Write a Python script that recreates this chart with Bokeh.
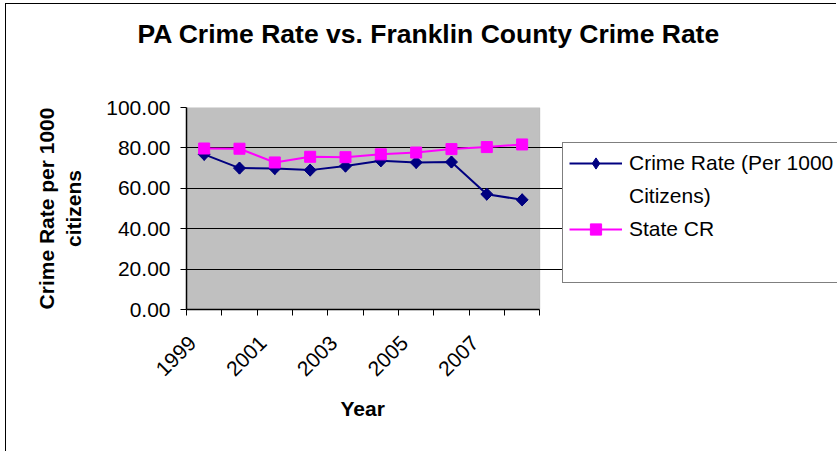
import math

from bokeh.embed import file_html
from bokeh.models import (BoxAnnotation, FixedTicker, Legend, LegendItem,
                          NumeralTickFormatter, Range1d, Title)
from bokeh.plotting import figure
from bokeh.resources import INLINE

# Crime rate per 1000 citizens, Franklin County vs. the state of Pennsylvania
years = [1999, 2000, 2001, 2002, 2003, 2004, 2005, 2006, 2007, 2008]
county_rate = [76.8, 70.0, 69.8, 69.0, 71.0, 73.6, 72.8, 73.0, 57.1, 54.3]
state_rate = [79.7, 79.6, 72.8, 75.6, 75.4, 76.8, 77.7, 79.4, 80.4, 81.7]
labeled_years = years[::2]
y_ticks = [0, 20, 40, 60, 80, 100]

FONT = "Liberation Sans"

# page layout (pixels): the frame runs to the right edge so the legend box
# can sit beside the grey plot area; the plot area itself is PLOT_W wide
CANVAS_W, CANVAS_H = 831, 448
LEFT, TOP, BOTTOM = 180, 103, 143
PLOT_W = 353.3
FRAME_W = CANVAS_W - LEFT
n = len(years)

# categories sit in the middle of their slots on a 0..n axis
xs = [i + 0.5 for i in range(n)]
label_shift = -0.33
label_pos = [years.index(y) + 0.5 + label_shift for y in labeled_years]

p = figure(
    width=CANVAS_W, height=CANVAS_H, title=None,
    output_backend="svg", toolbar_location=None,
    x_range=Range1d(0, n * FRAME_W / PLOT_W), y_range=Range1d(0, 100),
    min_border_left=LEFT, min_border_right=0,
    min_border_top=TOP, min_border_bottom=BOTTOM,
    background_fill_color="white", border_fill_color="white",
    outline_line_color=None,
)
p.styles = {
    "margin-left": "5px", "margin-top": "3px",
    "border-left": "1px solid #000000", "border-top": "1px solid #000000",
}

# grey plot area behind the grid
p.add_layout(BoxAnnotation(left=0, right=n, bottom=0, top=100, level="image",
                           fill_color="#C0C0C0", fill_alpha=1,
                           line_color="#808080", line_width=1))

# titles: a blank spacer next to the frame, the chart title above it
p.add_layout(Title(text=" ", text_font=FONT, text_font_size="26px", standoff=11), "above")
p.add_layout(Title(text="PA Crime Rate vs. Franklin County Crime Rate",
                   text_font=FONT, text_font_size="26.5px", text_font_style="bold",
                   text_color="black", align="left", offset=-49,
                   vertical_align="top", standoff=28), "above")

# x axis: tick marks on slot boundaries, labels on every other year
xa = p.xaxis[0]
xa.bounds = (0, n)
xa.ticker = FixedTicker(ticks=label_pos, minor_ticks=list(range(n + 1)))
xa.major_label_overrides = {pos: str(y) for pos, y in zip(label_pos, labeled_years)}
xa.major_tick_out = 0
xa.major_tick_in = 0
xa.minor_tick_out = 6
xa.minor_tick_in = 0
xa.minor_tick_line_color = "black"
xa.axis_line_color = "black"
xa.axis_line_width = 1.5
xa.major_label_orientation = math.pi / 4
xa.major_label_text_font = FONT
xa.major_label_text_font_size = "21px"
xa.major_label_text_color = "black"
xa.major_label_standoff = 24

p.add_layout(Title(text="Year", text_font=FONT, text_font_size="21px",
                   text_font_style="bold", text_color="black",
                   align="left", offset=154, vertical_align="top", standoff=22), "below")

ya = p.yaxis[0]
ya.bounds = (0, 100)
ya.ticker = FixedTicker(ticks=y_ticks)
ya.formatter = NumeralTickFormatter(format="0.00")
ya.major_tick_out = 6
ya.major_tick_in = 0
ya.minor_tick_line_color = None
ya.axis_line_color = "black"
ya.axis_line_width = 1.5
ya.major_label_text_font = FONT
ya.major_label_text_font_size = "21px"
ya.major_label_text_color = "black"
ya.major_label_standoff = 10
ya.axis_label = "Crime Rate per 1000\ncitizens"
ya.axis_label_text_font = FONT
ya.axis_label_text_font_size = "21px"
ya.axis_label_text_font_style = "bold"
ya.axis_label_text_color = "black"
ya.axis_label_standoff = 18

p.xgrid.grid_line_color = None
p.ygrid.ticker = FixedTicker(ticks=[t for t in y_ticks if 0 < t < 100])
p.ygrid.bounds = (0, n)
p.ygrid.grid_line_color = "black"
p.ygrid.grid_line_width = 1

# series
c_line = p.line(xs, county_rate, line_color="#000080", line_width=2)
# diamond key (used by the legend) sits under the rotated-square markers
c_key = p.scatter(xs, county_rate, marker="diamond", size=12,
                  fill_color="#000080", line_color="#000080")
c_pts = p.scatter(xs, county_rate, marker="square", angle=math.pi / 4, size=8.5,
                  fill_color="#000080", line_color="#000080")
s_line = p.line(xs, state_rate, line_color="#FF00FF", line_width=2)
s_pts = p.scatter(xs, state_rate, marker="square", size=11,
                  fill_color="#FF00FF", line_color="#FF00FF")
blank = p.line([0], [0], line_alpha=0)

legend = Legend(
    items=[
        LegendItem(label="Crime Rate (Per 1000", renderers=[c_line, c_key]),
        LegendItem(label="Citizens)", renderers=[blank]),
        LegendItem(label="State CR", renderers=[s_line, s_pts]),
        LegendItem(label=" ", renderers=[blank]),
    ],
    location=(376, 26),
    margin=0, padding=6, spacing=5,
    glyph_width=53, glyph_height=28, label_standoff=7,
    label_width=260, label_height=24,
    label_text_font=FONT, label_text_font_size="21px", label_text_color="black",
    border_line_color="black", border_line_width=1,
    background_fill_color="white", background_fill_alpha=1,
)
p.add_layout(legend)

open("out.html", "w").write(file_html(p, INLINE))
